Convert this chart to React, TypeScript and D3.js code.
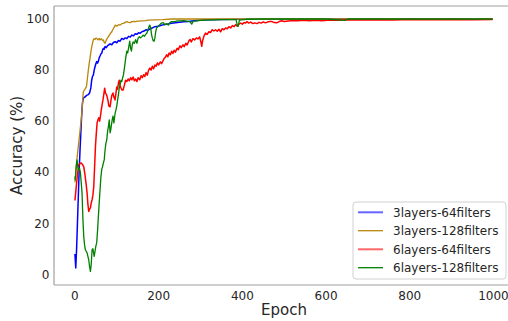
import React from "react";
import * as d3 from "d3";

const xTicks = [0, 200, 400, 600, 800, 1000];
const yTicks = [0, 20, 40, 60, 80, 100];
const seriesNames = ["3layers-64filters", "3layers-128filters", "6layers-64filters", "6layers-128filters"];
const seriesColors = ["#0000ff", "#b8860b", "#ff0000", "#008000"];

const blueData: [number, number][] = [
  [0,8],[2,2.5],[4,10],[6,20],[8,30],[10,40],[12,48],[14,55],[16,62],[18,67],[20,69],[23,69.3],[26,69.8],[29,70.2],[32,70.4],[35,71],[38,73],[40,76],[42,77.5],[44,78],[46,80],[48,81.3],[50,82.5],[52,83.3],[54,82.7],[56,83.5],[58,84.8],[60,85.5],[62,86.3],[64,86.6],[66,87.8],[68,88.5],[70,88.2],[72,89.2],[75,88.8],[78,89.6],[80,89.8],[84,90.3],[88,89.9],[92,90.8],[96,91.1],[100,90.7],[104,91.6],[108,91.3],[112,92.4],[116,92],[120,92.6],[124,92.3],[128,93.2],[132,92.9],[136,93.7],[140,93.4],[144,94.2],[148,94],[152,94.6],[156,94.4],[160,95],[165,95.3],[170,95.8],[175,95.6],[180,96.2],[185,96.5],[191,97],[198,97.2],[205,97.5],[212,97.8],[220,98],[231,98.3],[240,98.5],[250,98.7],[260,98.9],[271,99],[285,99.3],[303,99.6],[320,99.7],[350,99.8],[400,99.9],[500,99.9],[600,100],[800,100],[998,100]
];

const goldData: [number, number][] = [
  [0,36],[2,40],[4,44],[6,47],[8,50],[10,53],[12,56],[14,59],[16,62],[18,67],[20,71.5],[22,72],[24,72.5],[26,73],[28,74],[30,77],[32,80],[34,82.5],[36,84.6],[38,87],[40,89],[42,90.5],[44,91.8],[46,92.3],[48,92],[50,92.5],[52,92.4],[55,91.8],[58,92.4],[60,91.8],[63,92.3],[66,91.6],[68,91.8],[70,90.8],[72,90.5],[75,91.8],[78,92.6],[80,93.1],[84,94.2],[88,95],[91,96],[94,96.8],[96,97.6],[100,97.2],[104,97.8],[108,97.6],[112,98.2],[116,98.3],[120,98.7],[124,99],[128,98.7],[132,98.6],[136,99],[140,99.1],[145,99],[150,99.2],[160,99.3],[170,99.4],[175,99.6],[190,99.7],[210,99.8],[231,100],[300,100],[400,100],[600,100],[998,100]
];

const redData: [number, number][] = [
  [0,28.9],[3,34],[6,39],[9,42.9],[12,43.4],[15,43.6],[18,43],[21,42.2],[24,39],[27,35],[29,31.9],[31,27.5],[33,24.6],[35,25.5],[37,26],[39,28],[41,29.2],[43,31],[45,34.4],[47,42],[49,50],[51,55],[53,59.3],[55,60.5],[57,61.3],[59,60],[61,62],[63,64.4],[65,66.5],[67,68.3],[69,70.5],[71,72.9],[73,71],[75,70.5],[77,69.5],[79,68],[81,66],[84,65.6],[86,68],[88,70],[91,71],[93,69.5],[96,68.3],[98,71],[100,73.4],[102,72.5],[104,75],[106,76],[108,74],[110,73],[112,72.2],[115,72.2],[118,74],[121,76],[124,75.5],[127,76.5],[130,75.8],[133,77],[136,76.2],[139,77.3],[142,75.8],[145,76.5],[148,75.5],[151,77],[155,76.2],[158,77.8],[161,77],[164,78.2],[167,77.5],[170,79],[173,78],[176,80],[179,80.8],[182,80],[185,81.5],[188,80.5],[191,82],[194,81.5],[197,82.8],[200,82],[204,83.2],[207,82.5],[210,83.5],[213,84.5],[216,85],[219,86],[222,85.2],[225,86.7],[228,86],[231,87.4],[234,86.5],[237,87.8],[240,87],[244,88.5],[247,88],[251,89.5],[254,88.8],[258,89.9],[261,89.2],[265,90.5],[268,89.8],[272,91.4],[275,92],[278,91],[282,92.3],[286,91.8],[290,92.6],[294,92.2],[298,93],[301,91],[303,89.3],[305,91.5],[308,93.2],[312,94.5],[316,94],[320,95],[324,94.7],[328,95.8],[332,95.3],[336,95.8],[340,95.2],[344,96],[348,95],[352,96.2],[356,95.8],[360,96.5],[364,96.2],[368,97],[372,96.5],[376,97.4],[380,97],[384,97.8],[388,97.2],[392,98],[396,98.4],[400,98],[404,98.6],[408,98.4],[411,99],[415,98.4],[420,98.8],[425,98.2],[430,98.5],[435,98.2],[440,98.7],[445,98.4],[450,98.9],[455,98.5],[460,98.8],[465,99],[471,99],[476,98.6],[482,98.5],[488,99],[494,99.3],[500,99],[510,99.2],[520,99.4],[533,99.3],[545,99.5],[560,99.3],[575,99.5],[590,99.3],[610,99.6],[630,99.5],[650,99.7],[680,99.6],[720,99.7],[760,99.6],[800,99.8],[850,99.7],[900,99.8],[950,99.7],[998,99.8]
];

const greenData: [number, number][] = [
  [0,38.3],[1,37],[3,42],[5,44.8],[7,42],[9,40.9],[11,41.5],[13,40],[15,36],[17,31.9],[19,22],[21,15],[23,11.5],[25,9.6],[27,9],[29,8.4],[31,7],[33,5.7],[35,3],[37,1.1],[39,4],[41,9.6],[43,10],[45,8],[46,7],[48,9],[50,11],[52,12.3],[54,17],[56,22.6],[58,28],[60,33],[62,38],[64,41],[66,42.2],[68,43.6],[70,44.8],[72,48.7],[74,51.3],[76,52.6],[78,56],[80,57.8],[82,60.5],[84,55.4],[86,57],[89,60.5],[91,62],[93,59.3],[96,63.1],[98,64.4],[100,66],[102,68.3],[104,70.5],[106,73],[108,74.5],[110,76],[112,75.5],[114,77],[116,78.2],[118,80.5],[120,83],[122,85.5],[124,87.4],[126,86.7],[128,88.5],[131,91.3],[133,88.5],[135,87.4],[137,90],[139,91],[142,90.5],[145,91.9],[148,90.5],[151,92.5],[154,93.1],[157,92.6],[160,93.1],[163,93.7],[166,93.2],[169,94],[172,94.5],[175,96],[177,97],[179,97.6],[181,96.5],[183,94],[185,92.5],[187,91.5],[189,91.3],[191,92.5],[193,95],[195,96.4],[198,97],[201,97.5],[204,98],[207,98.4],[211,98.6],[215,97.8],[219,98.2],[223,97.6],[227,98.6],[231,99],[239,99],[245,99.3],[251,99.3],[260,99.4],[268,99.2],[275,99],[279,98],[283,99.2],[291,99.3],[300,99.5],[315,99.6],[330,99.7],[350,99.8],[370,99.8],[385,99.8],[388,97.4],[390,97.1],[393,99.6],[410,99.9],[450,100],[500,100],[600,100],[646,99.5],[652,100],[700,100],[800,100],[900,100],[998,100]
];

const allData = [blueData, goldData, redData, greenData];

const W = 508;
const H = 321;
const L = 54, R = 514, T = 6, B = 285;

export default function App() {
  const x = d3.scaleLinear().domain([-50, 1049]).range([L, R]);
  const y = d3.scaleLinear().domain([-4.2, 105.1]).range([B, T]);
  const line = d3.line<[number, number]>().x(d => x(d[0])).y(d => y(d[1]));
  const widths = [1.5, 1.3, 1.5, 1.3];
  const legendY = [212.3, 230.7, 249.3, 267.7];
  const font = "DejaVu Sans, sans-serif";
  return (
    <svg width={W} height={H} style={{ position: "absolute", left: 0, top: 0, background: "#fff" }} fontFamily={font}>
      <rect x={0} y={0} width={W} height={H} fill="#fff" />
      <defs>
        <clipPath id="plotclip"><rect x={L} y={T} width={R - L} height={B - T} /></clipPath>
      </defs>
      <g clipPath="url(#plotclip)">
        {allData.map((d, i) => (
          <path key={i} d={line(d) || ""} fill="none" stroke={seriesColors[i]} strokeWidth={widths[i]} strokeLinejoin="round" />
        ))}
      </g>
      <line x1={L} x2={R} y1={T} y2={T} stroke="#a0a0a0" strokeWidth={1.2} />
      <line x1={L} x2={L} y1={T} y2={B} stroke="#a0a0a0" strokeWidth={1.2} />
      <line x1={L} x2={R} y1={B} y2={B} stroke="#a0a0a0" strokeWidth={1.2} />
      {xTicks.map(t => (
        <text key={t} x={x(t)} y={299.5} textAnchor="middle" fontSize={12} fill="#262626">{t}</text>
      ))}
      {yTicks.map(t => (
        <text key={t} x={49.5} y={y(t)} dy="0.36em" textAnchor="end" fontSize={12} fill="#262626">{t}</text>
      ))}
      <text x={284} y={314.5} textAnchor="middle" fontSize={15} fill="#262626">Epoch</text>
      <text transform={`translate(22,${(T + B) / 2}) rotate(-90)`} textAnchor="middle" fontSize={15} fill="#262626">Accuracy (%)</text>
      <rect x={353} y={202} width={153} height={77} rx={3} fill="#fff" fillOpacity={0.85} stroke="#d0d0d0" strokeWidth={1} />
      {seriesNames.map((n, i) => (
        <g key={n}>
          <line x1={358} x2={383} y1={legendY[i]} y2={legendY[i]} stroke={seriesColors[i]} strokeWidth={i % 2 === 0 ? 2 : 1.3} strokeOpacity={i % 2 === 0 ? 0.6 : 1} />
          <text x={393} y={legendY[i]} dy="0.36em" fontSize={12} fill="#262626">{n}</text>
        </g>
      ))}
    </svg>
  );
}
